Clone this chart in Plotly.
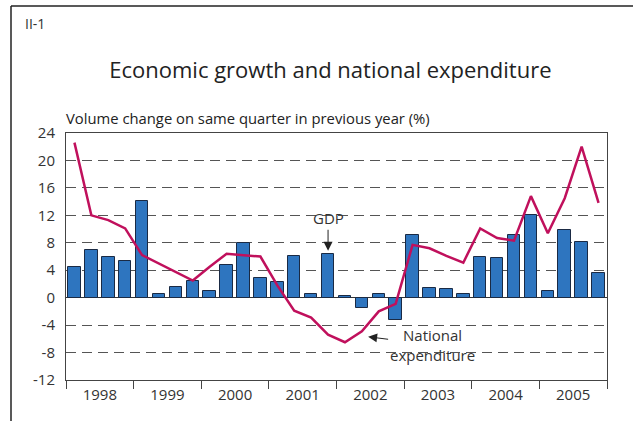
import plotly.graph_objects as go

years = ["1998", "1999", "2000", "2001", "2002", "2003", "2004", "2005"]
quarters = list(range(1, 33))
gdp = [4.5, 6.9, 5.9, 5.3, 14.1, 0.5, 1.5, 2.4,
       0.9, 4.7, 7.9, 2.9, 2.3, 6.1, 0.6, 6.4,
       0.3, -1.5, 0.5, -3.2, 9.2, 1.4, 1.3, 0.5,
       5.9, 5.8, 9.1, 12.0, 0.9, 9.9, 8.1, 3.6]
national_expenditure = [22.6, 12.0, 11.3, 10.1, 6.2, 5.0, 3.8, 2.5,
                        4.5, 6.4, 6.2, 6.0, 1.8, -1.9, -2.9, -5.4,
                        -6.5, -4.9, -2.0, -0.9, 7.7, 7.2, 6.1, 5.1,
                        10.1, 8.7, 8.3, 14.8, 9.4, 14.5, 22.0, 13.8]
y_ticks = [24, 20, 16, 12, 8, 4, 0, -4, -8, -12]
y_tick_labels = ["24", "20", "16", "12", "8", "4", "0", "-4", "-8", "-12"]

FONT = "Open Sans"
TXT = "#333333"

year_centers = [4 * i + 2.5 for i in range(len(years))]
year_bounds = [4 * i + 0.5 for i in range(len(years) + 1)]

fig = go.Figure()
fig.add_trace(go.Bar(
    x=quarters, y=gdp, width=0.74,
    marker=dict(color="#2e75bf", line=dict(color="#1a2a44", width=1)),
    name="GDP", showlegend=False,
))
fig.add_trace(go.Scatter(
    x=quarters, y=national_expenditure, mode="lines",
    line=dict(color="#c0105c", width=2.5),
    name="National expenditure", showlegend=False,
))

W, H = 633, 421
L, R, T, B = 66, 26, 133, 41
pw, ph = W - L - R, H - T - B

def px2paper_x(px):
    return (px - L) / pw

def px2paper_y(py):
    return (H - B - py) / ph

fig.update_layout(
    width=W, height=H,
    margin=dict(l=L, r=R, t=T, b=B, pad=0),
    paper_bgcolor="white", plot_bgcolor="white",
    font=dict(family=FONT, color=TXT, size=15),
    bargap=0,
    title=dict(text="Economic growth and national expenditure",
               x=0.522, xanchor="center", y=1 - 70 / H, yanchor="middle",
               font=dict(size=22, color="#222222", family=FONT)),
    xaxis=dict(
        range=[0.5, 32.5], tickmode="array", tickvals=year_centers, ticktext=years,
        ticks="outside", ticklen=1, tickcolor="rgba(0,0,0,0)",
        showgrid=False, zeroline=False,
        showline=True, linecolor="#444444", linewidth=1, mirror=True,
        minor=dict(tickmode="array", tickvals=year_bounds, ticks="outside",
                   ticklen=8, tickcolor="#444444", tickwidth=1, showgrid=False),
        tickfont=dict(size=15, color=TXT),
    ),
    yaxis=dict(
        range=[-12, 24], tickmode="array", tickvals=y_ticks, ticktext=y_tick_labels,
        ticks="outside", ticklen=7, tickcolor="rgba(0,0,0,0)",
        showgrid=True, gridcolor="#555555", gridwidth=1, griddash="10px,6px",
        zeroline=True, zerolinecolor="#333333", zerolinewidth=1.2,
        showline=True, linecolor="#444444", linewidth=1, mirror=True,
        tickfont=dict(size=15, color=TXT),
    ),
    shapes=[
        dict(type="line", xref="paper", yref="paper",
             x0=px2paper_x(11), x1=px2paper_x(640), y0=px2paper_y(6), y1=px2paper_y(6),
             line=dict(color="#222222", width=1.5)),
        dict(type="line", xref="paper", yref="paper",
             x0=px2paper_x(11), x1=px2paper_x(11), y0=px2paper_y(6), y1=px2paper_y(430),
             line=dict(color="#222222", width=1.5)),
    ],
    annotations=[
        dict(text="II-1", xref="paper", yref="paper", x=px2paper_x(23), y=px2paper_y(24),
             xanchor="left", yanchor="middle", showarrow=False,
             font=dict(size=14, color="#333333")),
        dict(text="Volume change on same quarter in previous year (%)",
             xref="paper", yref="paper", x=px2paper_x(64), y=px2paper_y(118),
             xanchor="left", yanchor="middle", showarrow=False,
             font=dict(size=14.8, color="#222222")),
        dict(text="GDP", x=quarters[15], y=gdp[15], xref="x", yref="y",
             showarrow=True, ax=0, ay=-24, arrowhead=2, arrowsize=1.8, arrowwidth=1,
             arrowcolor="#222222", standoff=3, yanchor="bottom",
             font=dict(size=15, color=TXT)),
        dict(text="National<br>expenditure", x=18.37, y=-5.7, xref="x", yref="y",
             showarrow=True, ax=64, ay=8, arrowhead=2, arrowsize=1.8, arrowwidth=1,
             arrowcolor="#222222", align="center",
             font=dict(size=15, color=TXT)),
    ],
)

fig.write_html("out.html", config={"displayModeBar": False},
               post_script="document.body.style.margin='0px';")
